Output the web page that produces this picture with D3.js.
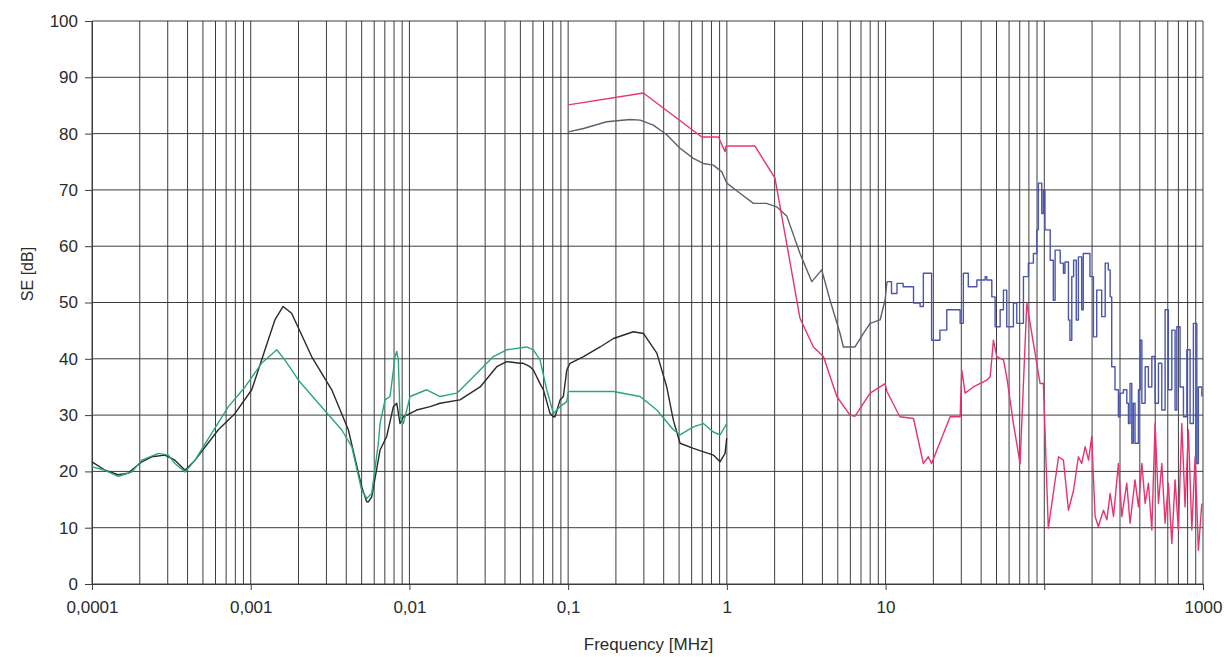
<!DOCTYPE html>
<html>
<head>
<meta charset="utf-8">
<script src="https://cdn.jsdelivr.net/npm/d3@7"></script>
<style>
  body { margin: 0; background: #fff; }
  text { font-family: "Liberation Sans", Arial, sans-serif; fill: #2b2b2b; }
</style>
</head>
<body>
<svg width="1227" height="657"></svg>
<script>
// frequency [MHz], SE [dB]
var blackData = [[0.0001,21.7],[0.000121,20.2],[0.000146,19.4],[0.000169,19.7],[0.000206,21.7],[0.000238,22.6],[0.000288,22.9],[0.000333,22.0],[0.000386,20.2],[0.000446,22.0],[0.000625,27.4],[0.000796,30.3],[0.001015,34.5],[0.00123,41.6],[0.00142,46.9],[0.0016,49.3],[0.00181,48.1],[0.00242,40.4],[0.00324,34.5],[0.00412,27.4],[0.005,17.3],[0.00538,14.6],[0.00551,14.6],[0.00579,15.5],[0.00653,23.8],[0.00719,26.2],[0.00792,31.5],[0.00832,32.1],[0.00873,28.5],[0.00915,29.7],[0.0111,30.9],[0.0135,31.5],[0.0156,32.1],[0.0208,32.7],[0.0279,35.0],[0.0355,38.6],[0.041,39.5],[0.0498,39.2],[0.0522,39.2],[0.0575,38.6],[0.0604,38.0],[0.0665,35.6],[0.0698,34.5],[0.0769,30.3],[0.0807,29.7],[0.0827,29.7],[0.0889,32.7],[0.0933,33.3],[0.098,38.0],[0.1028,39.2],[0.125,40.4],[0.159,42.1],[0.193,43.6],[0.2575,44.8],[0.298,44.5],[0.362,41.0],[0.418,35.0],[0.46,29.1],[0.507,25.0],[0.615,24.1],[0.822,22.9],[0.906,21.7],[0.974,23.2],[0.998,25.9]];

var greenData = [[0.0001,20.8],[0.000121,20.2],[0.000146,19.1],[0.000178,19.9],[0.000206,22.0],[0.000262,23.2],[0.000303,22.9],[0.000333,21.4],[0.000386,19.9],[0.000446,22.0],[0.000568,26.8],[0.000723,31.5],[0.000921,35.0],[0.00117,39.2],[0.00146,41.6],[0.00164,39.8],[0.002,36.2],[0.00267,32.1],[0.00374,27.4],[0.00433,24.4],[0.005,16.7],[0.00538,15.2],[0.00579,16.1],[0.00637,25.0],[0.00653,28.5],[0.00702,32.7],[0.00755,33.3],[0.00812,40.4],[0.00832,41.3],[0.00851,39.8],[0.00873,29.7],[0.00915,28.5],[0.0101,33.3],[0.01285,34.5],[0.0156,33.3],[0.0199,33.9],[0.0253,36.8],[0.0338,40.4],[0.041,41.6],[0.0549,42.1],[0.0604,41.6],[0.0665,39.8],[0.0733,34.5],[0.0807,30.3],[0.0889,31.5],[0.098,32.4],[0.1003,34.2],[0.159,34.2],[0.193,34.2],[0.284,33.3],[0.362,30.9],[0.46,27.4],[0.507,26.5],[0.615,27.9],[0.711,28.5],[0.822,27.0],[0.906,26.5],[1.0,28.5]];

var grayData = [[0.1003,80.3],[0.125,80.9],[0.175,82.1],[0.2455,82.5],[0.284,82.4],[0.344,81.5],[0.418,79.8],[0.507,77.4],[0.615,75.6],[0.711,74.7],[0.822,74.4],[0.929,73.2],[1.0,71.2],[1.21,69.4],[1.47,67.6],[1.78,67.6],[2.06,67.0],[2.39,65.3],[2.89,58.7],[3.43,53.7],[3.96,55.8],[4.47,50.4],[5.17,44.5],[5.42,42.1],[6.42,42.1],[7.25,44.5],[7.99,46.3],[9.23,46.9],[9.93,50.4],[10.2,53.7]];

var blueData = [[10.2,53.7],[10.9,51.6],[11.8,53.4],[12.9,52.8],[15.0,49.9],[16.5,49.3],[17.3,55.2],[19.1,55.2],[19.5,43.3],[22.0,45.1],[24.3,48.7],[28.1,48.7],[29.5,46.3],[30.9,55.2],[33.2,52.8],[37.6,54.0],[42.4,54.6],[43.4,54.0],[46.7,51.0],[49.0,45.7],[52.7,48.7],[55.3,52.2],[58.0,45.7],[63.9,49.9],[67.1,46.3],[73.9,54.6],[79.4,57.0],[85.4,58.7],[89.7,62.9],[91.8,71.2],[96.4,65.8],[98.7,70.0],[101,62.9],[106,62.9],[109,57.5],[114,50.4],[117,59.3],[126,57.0],[132,55.2],[135,57.2],[142,46.9],[145,43.3],[149,54.6],[153,57.5],[159,46.9],[164,58.1],[172,48.7],[176,58.7],[190,58.7],[194,54.6],[204,43.9],[214,52.2],[225,52.2],[230,47.5],[242,57.0],[253,55.8],[260,51.0],[266,38.6],[279,34.5],[293,29.7],[300,33.9],[315,34.5],[331,32.1],[339,28.5],[347,35.6],[356,25.0],[364,32.1],[373,25.0],[392,34.5],[402,43.3],[412,32.1],[432,38.6],[453,35.0],[476,40.4],[499,32.1],[524,39.2],[550,30.9],[577,48.7],[605,34.5],[636,45.1],[667,30.9],[684,45.7],[717,35.0],[753,29.7],[791,41.6],[829,28.5],[870,46.3],[914,21.4],[935,35.0],[983,33.3]];

var pinkData = [[0.1003,85.1],[0.298,87.2],[0.695,79.4],[0.884,79.4],[0.974,76.8],[0.99,77.8],[1.5,77.8],[2.01,72.1],[2.89,47.2],[3.51,42.1],[4.06,40.4],[4.93,33.3],[5.97,30.0],[6.42,29.8],[7.99,33.9],[9.93,35.6],[10.2,34.2],[12.3,29.7],[15.0,29.4],[17.3,21.4],[18.6,22.6],[19.5,21.4],[25.5,29.7],[29.5,29.7],[30.2,38.0],[31.7,33.9],[35.7,35.0],[43.4,36.2],[45.6,36.8],[47.8,43.3],[50.2,40.4],[55.3,39.8],[58.0,36.8],[63.9,28.5],[70.4,21.4],[77.6,49.9],[85.4,42.8],[94.1,35.6],[98.7,35.6],[101,27.4],[106,9.9],[123,22.6],[132,22.0],[142,13.1],[153,16.7],[164,22.6],[172,21.4],[181,24.4],[190,22.0],[199,26.2],[209,12.0],[219,10.2],[236,13.1],[248,11.4],[260,16.1],[273,12.0],[293,21.4],[308,12.0],[331,17.9],[347,10.8],[373,18.5],[392,13.7],[412,21.4],[432,14.3],[453,17.9],[476,9.6],[499,28.5],[524,14.3],[550,21.4],[577,10.8],[605,17.9],[636,7.2],[667,18.5],[700,9.6],[735,28.5],[771,13.7],[809,27.4],[850,9.6],[892,22.6],[935,6.0],[983,14.3]];

var xDecades = [0.0001, 0.001, 0.01, 0.1, 1, 10, 100, 1000];
var xLabels = ["0,0001", "0,001", "0,01", "0,1", "1", "10", "", "1000"];
var yTicks = [0, 10, 20, 30, 40, 50, 60, 70, 80, 90, 100];

var svg = d3.select("svg"),
    margin = {top: 21, right: 24, bottom: 73, left: 92},
    width = +svg.attr("width") - margin.left - margin.right,
    height = +svg.attr("height") - margin.top - margin.bottom;

var g = svg.append("g").attr("transform", "translate(" + margin.left + "," + margin.top + ")");

var x = d3.scaleLog().domain([0.0001, 1000]).range([0, width]);
var y = d3.scaleLinear().domain([0, 100]).range([height, 0]);

var gridColor = "#3d3d3d";

// grid
g.selectAll(".vgrid")
  .data(x.ticks())
  .enter().append("line")
    .attr("x1", function(d) { return x(d); })
    .attr("x2", function(d) { return x(d); })
    .attr("y1", 0)
    .attr("y2", height)
    .attr("stroke", gridColor)
    .attr("stroke-width", 1);

g.selectAll(".hgrid")
  .data(yTicks)
  .enter().append("line")
    .attr("x1", 0)
    .attr("x2", width)
    .attr("y1", function(d) { return y(d); })
    .attr("y2", function(d) { return y(d); })
    .attr("stroke", gridColor)
    .attr("stroke-width", 1);

// axes
var xAxis = g.append("g")
    .attr("transform", "translate(0," + height + ")")
    .call(d3.axisBottom(x).tickValues(xDecades).tickSize(6).tickPadding(11)
      .tickFormat(function(d, i) { return xLabels[i]; }));

var yAxis = g.append("g")
    .call(d3.axisLeft(y).tickValues(yTicks).tickSize(7).tickPadding(7));

[xAxis, yAxis].forEach(function(a) {
  a.select(".domain").attr("stroke", gridColor);
  a.selectAll(".tick line").attr("stroke", gridColor);
  a.selectAll("text").attr("font-size", 17).attr("fill", "#2b2b2b")
    .style("font-family", "'Liberation Sans', Arial, sans-serif");
});

// series
var line = d3.line()
    .x(function(d) { return x(d[0]); })
    .y(function(d) { return y(d[1]); });

var stepLine = d3.line()
    .curve(d3.curveStepAfter)
    .x(function(d) { return x(d[0]); })
    .y(function(d) { return y(d[1]); });

var series = [
  {data: blackData, color: "#2a2a2a", gen: line},
  {data: greenData, color: "#2aa67c", gen: line},
  {data: grayData,  color: "#5d6070", gen: line},
  {data: blueData,  color: "#4a56ad", gen: stepLine},
  {data: pinkData,  color: "#e8336e", gen: line}
];

g.selectAll(".series")
  .data(series)
  .enter().append("path")
    .attr("fill", "none")
    .attr("stroke", function(d) { return d.color; })
    .attr("stroke-width", 1.4)
    .attr("stroke-linejoin", "round")
    .attr("d", function(d) { return d.gen(d.data); });

// axis titles
svg.append("text")
    .attr("x", margin.left + width / 2 + 1)
    .attr("y", 650)
    .attr("text-anchor", "middle")
    .attr("font-size", 17)
    .text("Frequency [MHz]");

svg.append("text")
    .attr("transform", "translate(33,274) rotate(-90)")
    .attr("text-anchor", "middle")
    .attr("font-size", 16)
    .text("SE [dB]");
</script>
</body>
</html>
